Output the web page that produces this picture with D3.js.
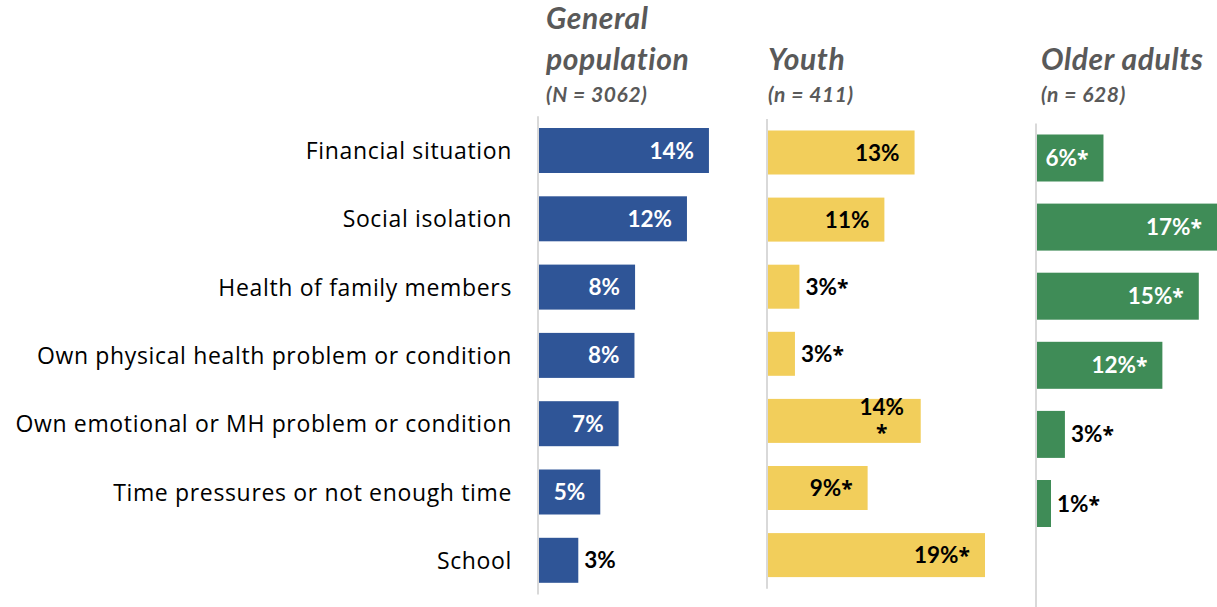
<!DOCTYPE html>
<html><head><meta charset="utf-8">
<script src="https://cdn.jsdelivr.net/npm/d3@7"></script>
<style>body{margin:0;background:#fff}svg{display:block}</style>
</head><body>
<script>
const categories = ["Financial situation","Social isolation","Health of family members","Own physical health problem or condition","Own emotional or MH problem or condition","Time pressures or not enough time","School"];
const genValues   = [14.0, 12.2, 7.95, 7.9, 6.6, 5.1, 3.3];
const genLabels   = ["14%","12%","8%","8%","7%","5%","3%"];
const youthValues = [13.2, 10.5, 2.9, 2.5, 13.75, 9.0, 19.5];
const youthLabels = ["13%","11%","3%*","3%*","14%\n*","9%*","19%*"];
const olderValues = [6.3, 16.9, 15.2, 11.8, 2.7, 1.4, null];
const olderLabels = ["6%*","17%*","15%*","12%*","3%*","1%*",""];
const panelTitles = [["General","population"],["Youth"],["Older adults"]];
const panelSubtitles = ["(N = 3062)","(n = 411)","(n = 628)"];

const W=1217,H=607;
const svg=d3.select("body").append("svg").attr("width",W).attr("height",H);
const FONT="Lato, 'Open Sans', sans-serif";
const STARFONT="'Open Sans', sans-serif";

const panels=[
 {values:genValues,labels:genLabels,color:"#2F5597",inText:"#fff",x0:538,ppp:12.21,y0:116.35,y1:594.45,bh:45,title:panelTitles[0],sub:panelSubtitles[0],tx:546},
 {values:youthValues,labels:youthLabels,color:"#F2CE5B",inText:"#000",x0:767,ppp:11.18,y0:118.95,y1:588.65,bh:44,title:panelTitles[1],sub:panelSubtitles[1],tx:768},
 {values:olderValues,labels:olderLabels,color:"#3F8C57",inText:"#fff",x0:1036,ppp:10.71,y0:123.45,y1:607.15,bh:47,title:panelTitles[2],sub:panelSubtitles[2],tx:1041}
];

// category labels
const yCat=d3.scaleBand().domain(categories).range([116.35,594.45]);
svg.append("g").selectAll("text").data(categories).join("text")
 .attr("x",512).attr("y",d=>yCat(d)+yCat.bandwidth()/2+8.5)
 .attr("text-anchor","end").attr("font-family","'Open Sans', sans-serif").attr("font-size",23)
 .attr("letter-spacing",0.65).attr("fill","#000").text(d=>d);

function addParts(el,str){
 // split trailing asterisk into its own tspan with a larger glyph
 const m=str.match(/^([^*]*)(\*?)$/);
 if(m[1]) el.append("tspan").text(m[1]);
 if(m[2]) el.append("tspan").attr("font-family",STARFONT).attr("font-size",21).text("*");
}

panels.forEach(p=>{
 const x=d3.scaleLinear().domain([0,1]).range([p.x0,p.x0+p.ppp]);
 const y=d3.scaleBand().domain(categories).range([p.y0,p.y1]);
 const g=svg.append("g");
 const tl=p.title.length;
 p.title.forEach((t,i)=>{
  g.append("text").attr("x",p.tx).attr("y",70-(tl-1-i)*41).attr("font-family",FONT)
   .attr("font-weight",700).attr("font-style","italic").attr("font-size",30).attr("letter-spacing",0.6)
   .attr("fill","#595959").text(t);
 });
 g.append("text").attr("x",p.tx).attr("y",102).attr("font-family",FONT)
  .attr("font-weight",700).attr("font-style","italic").attr("font-size",21).attr("letter-spacing",0.6)
  .attr("fill","#595959").text(p.sub);
 g.append("line").attr("x1",p.x0).attr("x2",p.x0).attr("y1",p.y0).attr("y2",p.y1)
  .attr("stroke","#d9d9d9").attr("stroke-width",2);
 const rows=categories.map((c,i)=>({c,v:p.values[i],l:p.labels[i]})).filter(d=>d.v!=null);
 g.selectAll("rect").data(rows).join("rect")
  .attr("x",p.x0+1).attr("y",d=>y(d.c)+y.bandwidth()/2-p.bh/2)
  .attr("width",d=>x(d.v)-p.x0-1).attr("height",p.bh).attr("fill",p.color);
 rows.forEach(d=>{
  const end=x(d.v), cy=y(d.c)+y.bandwidth()/2;
  const inside=(end-p.x0)>50;
  const lines=d.l.split("\n");
  const col=inside?p.inText:"#000";
  if(lines.length===1){
   const t=g.append("text").attr("font-family",FONT).attr("font-weight",700).attr("font-size",22.5).attr("fill",col)
    .attr("x",inside?end-15:end+6).attr("y",cy+8).attr("text-anchor",inside?"end":"start");
   addParts(t,d.l);
  } else {
   const cx=end-39;
   lines.forEach((ln,i)=>{
    const t=g.append("text").attr("font-family",FONT).attr("font-weight",700).attr("font-size",22.5).attr("fill",col)
     .attr("x",cx).attr("y",cy-6+i*25).attr("text-anchor","middle");
    addParts(t,ln);
   });
  }
 });
});
</script>
</body></html>
